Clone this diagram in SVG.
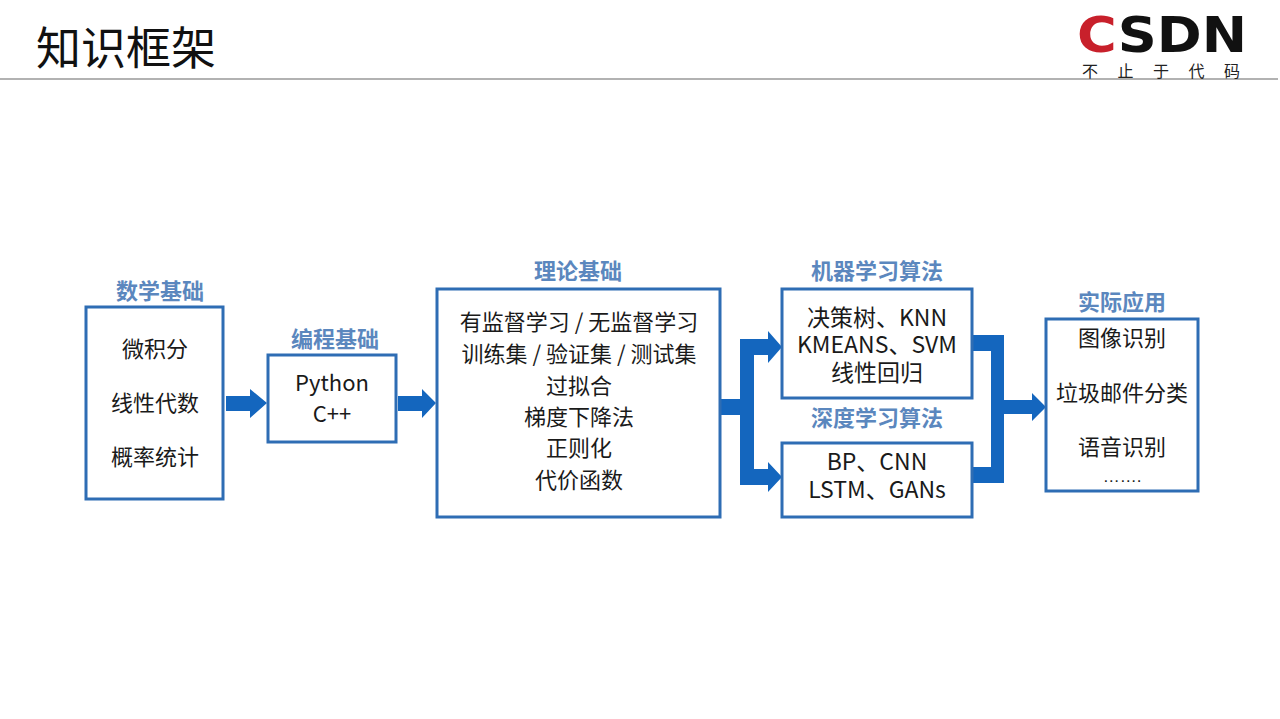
<svg xmlns="http://www.w3.org/2000/svg" width="1280" height="719" viewBox="0 0 1280 719">
<style>
.box{fill:#fff;stroke:#2E6DB4;stroke-width:3}
.lbl{font-family:"Noto Sans CJK SC",sans-serif;font-size:22px;font-weight:bold;fill:#5B87BE;text-anchor:middle}
.t{font-family:"Noto Sans CJK SC",sans-serif;font-size:22px;fill:#1a1a1a;text-anchor:middle}
.t2{font-family:"Noto Sans CJK SC",sans-serif;font-size:23px;fill:#1a1a1a;text-anchor:middle}
.arr{fill:#1466BE}
</style>
<rect width="1280" height="719" fill="#fff"/>
<g id="header">
<text x="36" y="65" font-family="Noto Sans CJK SC,sans-serif" font-size="45" fill="#111">知识框架</text>
<line x1="0" y1="79" x2="1278" y2="79" stroke="#999" stroke-width="1.5"/>
<text x="1077" y="52" font-family="DejaVu Sans,sans-serif" font-weight="bold" font-size="50" textLength="170" lengthAdjust="spacingAndGlyphs"><tspan fill="#C8202B">C</tspan><tspan fill="#111">SDN</tspan></text>
<text x="1082" y="77" font-family="Noto Sans CJK SC,sans-serif" font-size="16" fill="#222" letter-spacing="19.5">不止于代码</text>
</g>
<g id="connectors">
<polygon class="arr" points="226,396 250,396 250,389 267,403 250,418 250,411 226,411"/>
<polygon class="arr" points="398,396 422,396 422,389 436,403 422,418 422,411 398,411"/>
<polygon class="arr" points="720,399 740,399 740,339 768,339 768,331 782,347 768,363 768,355 754,355 754,469 768,469 768,462 782,477 768,492 768,485 740,485 740,415 720,415"/>
<polygon class="arr" points="972,335 1004,335 1004,400 1032,400 1032,393 1046,407 1032,421 1032,414 1004,414 1004,483 972,483 972,467 991,467 991,351 972,351"/>
</g>
<g id="math">
<text class="lbl" x="160" y="299">数学基础</text>
<rect class="box" x="86" y="307" width="137" height="192"/>
<text class="t" x="155" y="357">微积分</text>
<text class="t" x="155" y="411">线性代数</text>
<text class="t" x="155" y="465">概率统计</text>
</g>
<g id="prog">
<text class="lbl" x="335" y="347">编程基础</text>
<rect class="box" x="268" y="355" width="128" height="87"/>
<text class="t" x="332" y="391">Python</text>
<text class="t" x="332" y="422">C++</text>
</g>
<g id="theory">
<text class="lbl" x="578" y="279">理论基础</text>
<rect class="box" x="437" y="289" width="283" height="228"/>
<text class="t" x="579" y="330" font-size="22.5">有监督学习 / 无监督学习</text>
<text class="t" x="579" y="362" font-size="22.5">训练集 / 验证集 / 测试集</text>
<text class="t" x="579" y="394">过拟合</text>
<text class="t" x="579" y="425">梯度下降法</text>
<text class="t" x="579" y="456">正则化</text>
<text class="t" x="579" y="488">代价函数</text>
</g>
<g id="ml">
<text class="lbl" x="877" y="279">机器学习算法</text>
<rect class="box" x="782" y="289" width="190" height="109"/>
<text class="t2" x="877" y="326">决策树、KNN</text>
<text class="t2" x="877" y="353">KMEANS、SVM</text>
<text class="t2" x="877" y="381">线性回归</text>
</g>
<g id="dl">
<text class="lbl" x="877" y="426">深度学习算法</text>
<rect class="box" x="782" y="443" width="190" height="74"/>
<text class="t2" x="877" y="470">BP、CNN</text>
<text class="t2" x="877" y="498">LSTM、GANs</text>
</g>
<g id="app">
<text class="lbl" x="1122" y="310">实际应用</text>
<rect class="box" x="1046" y="319" width="152" height="172"/>
<text class="t" x="1122" y="346">图像识别</text>
<text class="t" x="1122" y="401">垃圾邮件分类</text>
<text class="t" x="1122" y="455">语音识别</text>
<text x="1122" y="482" font-family="Liberation Sans,sans-serif" font-size="17" fill="#1a1a1a" text-anchor="middle">…….</text>
</g>
</svg>
